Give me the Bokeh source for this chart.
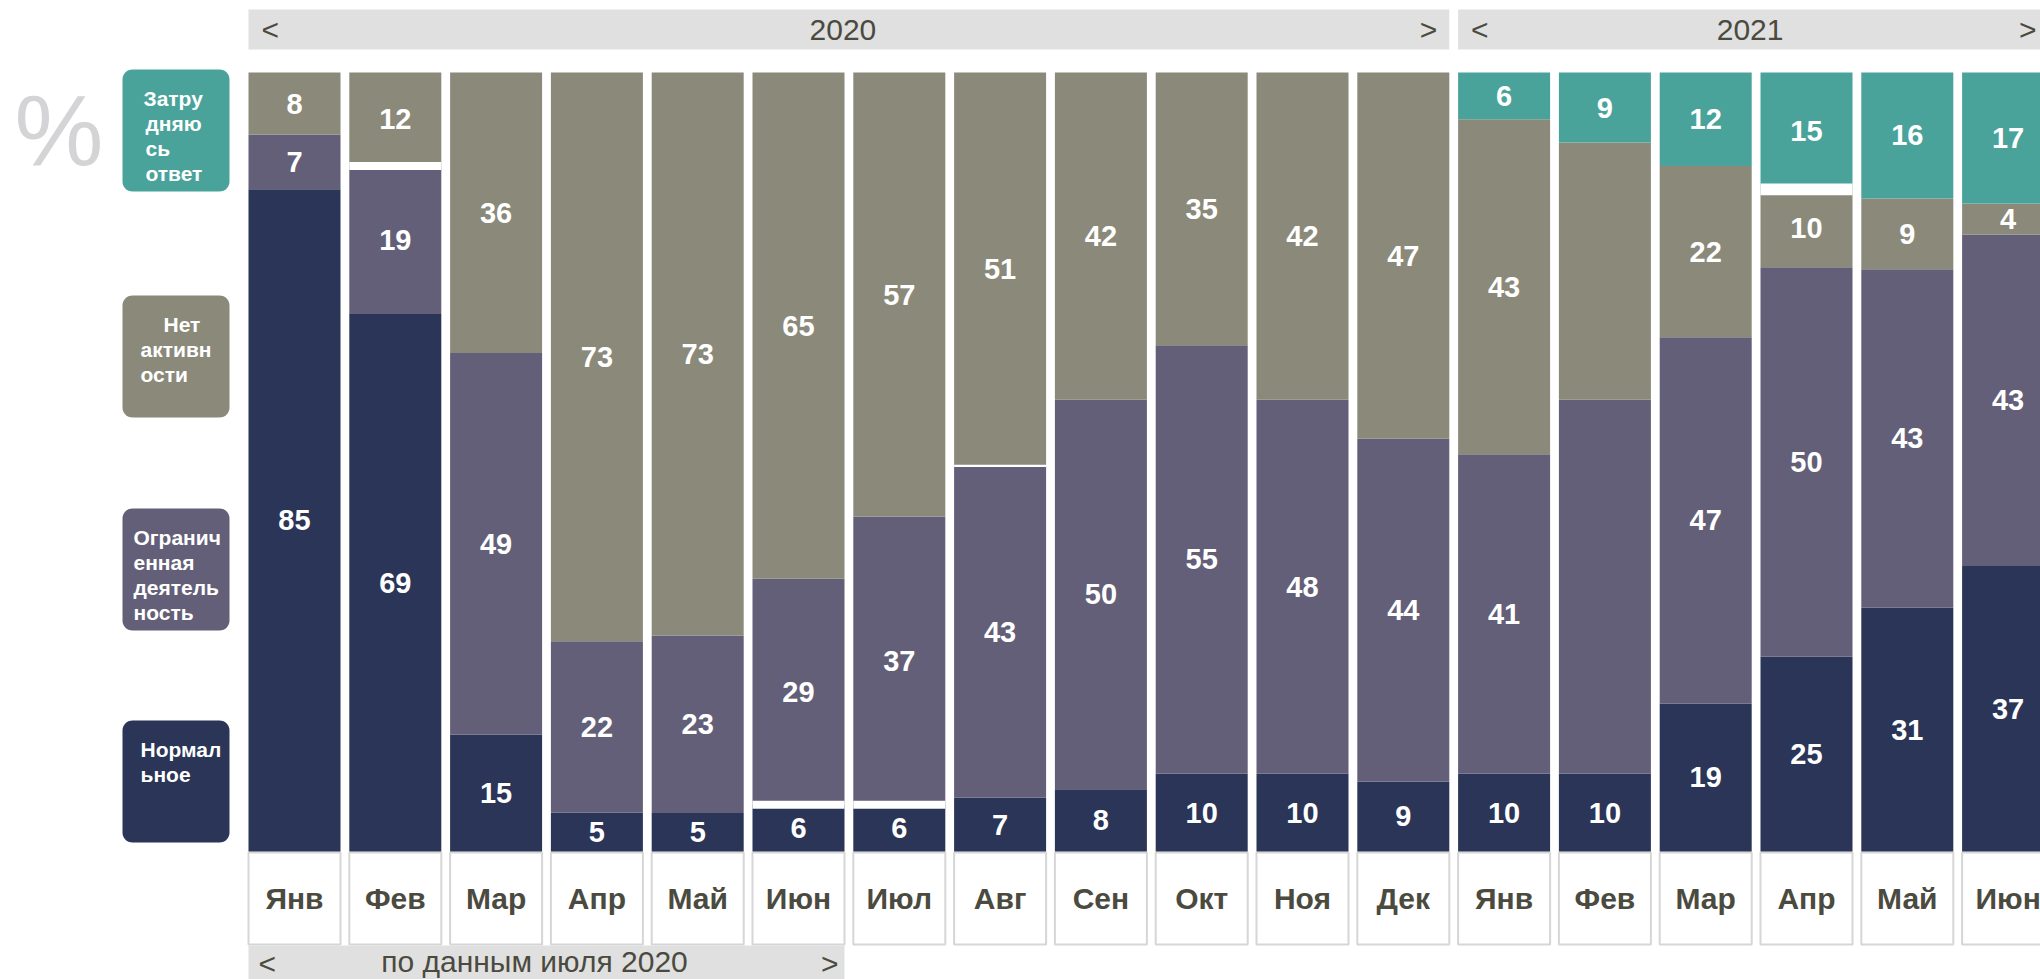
import numpy as np
from bokeh.plotting import figure
from bokeh.models import ColumnDataSource, Range1d
from bokeh.embed import file_html
from bokeh.resources import INLINE
from bokeh.core.properties import value

# ---------------- data ----------------
months = ["Янв", "Фев", "Мар", "Апр", "Май", "Июн", "Июл", "Авг", "Сен", "Окт", "Ноя", "Дек",
          "Янв", "Фев", "Мар", "Апр", "Май", "Июн"]
years = ["2020"] * 12 + ["2021"] * 6

normal = [85, 69, 15, 5, 5, 6, 6, 7, 8, 10, 10, 9, 10, 10, 19, 25, 31, 37]
limited = [7, 19, 49, 22, 23, 29, 37, 43, 50, 55, 48, 44, 41, 48, 47, 50, 43, 43]
no_activity = [8, 12, 36, 73, 73, 65, 57, 51, 42, 35, 42, 47, 43, 33, 22, 10, 9, 4]
unsure = [0, 0, 0, 0, 0, 0, 0, 0, 0, 0, 0, 0, 6, 9, 12, 15, 16, 17]

series_keys = ["normal", "limited", "no_activity", "unsure"]
legend_label_lines = {
    "unsure": ["Затру", "дняю", "сь", "ответ"],
    "no_activity": ["Нет", "активн", "ости"],
    "limited": ["Огранич", "енная", "деятель", "ность"],
    "normal": ["Нормал", "ьное"],
}
note_text = "по данным июля 2020"
note_months = (0, 5)

# segments shown without a number in the source picture
unlabeled = [(13, "limited"), (13, "no_activity")]
# thin white separators visible in the source (month index, segment below, size in %)
gaps = [(1, "limited", 1.0), (5, "normal", 1.0), (6, "normal", 1.0),
        (7, "limited", 0.3), (15, "no_activity", 1.5)]

# ---------------- style / layout ----------------
colors = {"normal": "#2A3557", "limited": "#645F78", "no_activity": "#8B8A7A", "unsure": "#49A39A"}
FONT = "Liberation Sans"
TXT = "#4B4A3F"
HDR = "#E0E0E0"

W, H = 2040, 979
PX0, PITCH, BARW_PX = 294.0, 100.8, 92.0
PY100, PY0 = 72.0, 851.0
SY = (PY0 - PY100) / 100.0


def X(px):
    return (px - PX0) / PITCH


def Y(py):
    return (PY0 - py) / SY


p = figure(width=W, height=H, x_range=Range1d(X(0), X(W)), y_range=Range1d(Y(H), Y(0)),
           output_backend="svg", toolbar_location=None, min_border=0,
           x_axis_type=None, y_axis_type=None)
p.grid.visible = False
p.outline_line_color = None
p.background_fill_color = "white"
p.border_fill_color = "white"

bw = BARW_PX / PITCH
x = np.arange(len(months))

# ---------------- month boxes ----------------
p.quad(left=x - bw / 2, right=x + bw / 2, top=Y(852), bottom=Y(944),
       fill_color="white", line_color="#D6D6D6", line_width=2)
p.text(x=x, y=[Y(898)] * len(x), text=months, text_font=value(FONT), text_font_style="bold",
       text_font_size="30px", text_color=TXT, text_align="center", text_baseline="middle")

# ---------------- stacked bars ----------------
data = {"normal": normal, "limited": limited, "no_activity": no_activity, "unsure": unsure}
vals = np.array([data[k] for k in series_keys], dtype=float)
pct = vals / vals.sum(axis=0) * 100.0
tops = np.cumsum(pct, axis=0)
bots = tops - pct

for k, key in enumerate(series_keys):
    src = ColumnDataSource(dict(x=x, bottom=bots[k], top=tops[k]))
    p.vbar(x="x", bottom="bottom", top="top", width=bw, source=src,
           fill_color=colors[key], line_color=None)

# separators
gl, gr, gb, gt = [], [], [], []
for i, key, g in gaps:
    b = tops[series_keys.index(key), i]
    gl.append(i - bw / 2); gr.append(i + bw / 2); gb.append(b - g / 2); gt.append(b + g / 2)
p.quad(left=gl, right=gr, bottom=gb, top=gt, fill_color="white", line_color=None)

# value labels
lx, ly, lt = [], [], []
for k, key in enumerate(series_keys):
    for i in range(len(months)):
        if vals[k, i] > 0 and (i, key) not in unlabeled:
            lx.append(i)
            ly.append((bots[k, i] + tops[k, i]) / 2)
            lt.append(str(int(vals[k, i])))
p.text(x=lx, y=ly, text=lt, text_font=value(FONT), text_font_style="bold", text_font_size="29px",
       text_color="white", text_align="center", text_baseline="middle")

# ---------------- year headers ----------------
for yr in dict.fromkeys(years):
    idx = [i for i, v in enumerate(years) if v == yr]
    l, r = min(idx) - bw / 2, max(idx) + bw / 2
    p.quad(left=[l], right=[r], top=[Y(9)], bottom=[Y(49)], fill_color=HDR, line_color=None)
    p.text(x=[(l + r) / 2 - 6 / PITCH], y=[Y(29)], text=[yr], text_font=value(FONT),
           text_font_size="30px", text_color=TXT, text_align="center", text_baseline="middle")
    p.text(x=[l + 13 / PITCH], y=[Y(29)], text=["<"], text_font=value(FONT), text_font_size="30px",
           text_color=TXT, text_align="left", text_baseline="middle")
    p.text(x=[min(r - 12 / PITCH, X(W - 4))], y=[Y(29)], text=[">"], text_font=value(FONT),
           text_font_size="30px", text_color=TXT, text_align="right", text_baseline="middle")

# ---------------- bottom note header ----------------
nl, nr = note_months[0] - bw / 2, note_months[1] + bw / 2
p.quad(left=[nl], right=[nr], top=[Y(945)], bottom=[Y(995)], fill_color=HDR, line_color=None)
p.text(x=[(nl + nr) / 2 - 12 / PITCH], y=[Y(961)], text=[note_text], text_font=value(FONT),
       text_font_size="30px", text_color=TXT, text_align="center", text_baseline="middle")
p.text(x=[nl + 10 / PITCH], y=[Y(963)], text=["<"], text_font=value(FONT), text_font_size="30px",
       text_color=TXT, text_align="left", text_baseline="middle")
p.text(x=[nr - 6 / PITCH], y=[Y(963)], text=[">"], text_font=value(FONT), text_font_size="30px",
       text_color=TXT, text_align="right", text_baseline="middle")

# ---------------- legend boxes ----------------
def rrect(l, r, t, b, rad=10.0, n=10):
    pts = []
    for cx, cy, a0, a1 in [(r - rad, t + rad, -90, 0), (r - rad, b - rad, 0, 90),
                           (l + rad, b - rad, 90, 180), (l + rad, t + rad, 180, 270)]:
        for a in np.linspace(np.radians(a0), np.radians(a1), n):
            pts.append((cx + rad * np.cos(a), cy + rad * np.sin(a)))
    return [X(px) for px, _ in pts], [Y(py) for _, py in pts]


legend_top = {"unsure": 69, "no_activity": 295, "limited": 508, "normal": 720}
legend_text_x = {"unsure": [143, 145, 145, 145], "no_activity": [163, 140, 140],
                 "limited": [133, 133, 133, 133], "normal": [140, 140]}
bxs, bys, bcs = [], [], []
tx, ty, tt = [], [], []
for key in ["unsure", "no_activity", "limited", "normal"]:
    t0 = legend_top[key]
    xs, ys = rrect(122, 229, t0, t0 + 122)
    bxs.append(xs); bys.append(ys); bcs.append(colors[key])
    for j, line in enumerate(legend_label_lines[key]):
        tx.append(X(legend_text_x[key][j])); ty.append(Y(t0 + 29 + 25 * j)); tt.append(line)
p.patches(xs=bxs, ys=bys, fill_color=bcs, line_color=None)
p.text(x=tx, y=ty, text=tt, text_font=value(FONT), text_font_style="bold", text_font_size="21px",
       text_color="white", text_align="left", text_baseline="middle")

# big percent sign
p.text(x=[X(14)], y=[Y(129)], text=["%"], text_font=value(FONT), text_font_size="100px",
       text_color="#D4D4D6", text_align="left", text_baseline="middle")

open("out.html", "w").write(file_html(p, INLINE))
